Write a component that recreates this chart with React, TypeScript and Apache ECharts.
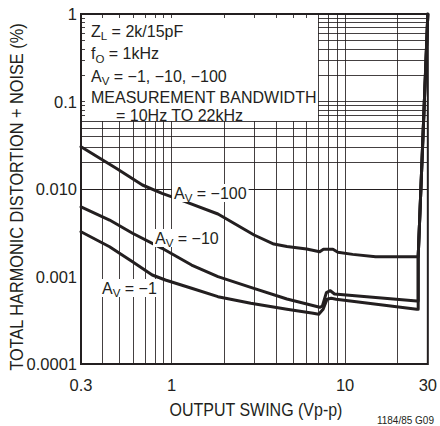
import React, { useEffect, useRef } from "react";
import * as echarts from "echarts";

// ---- tick labels ----
const X_TICKS = [0.3, 1, 10, 30];
const X_TICK_LABELS = ["0.3", "1", "10", "30"];
const Y_TICKS = [0.0001, 0.001, 0.01, 0.1, 1];
const Y_TICK_LABELS = ["0.0001", "0.001", "0.010", "0.1", "1"];

// ---- grid lines ----
const X_GRID = [0.4, 0.5, 0.6, 0.7, 0.8, 0.9, 1, 2, 3, 4, 5, 6, 7, 8, 9, 10, 20];
const Y_GRID_MULT = [1, 2, 3, 4, 5, 6, 7, 8, 9];
const Y_GRID_DECADES = [0.0001, 0.001, 0.01, 0.1];

// ---- series values (output swing Vp-p, THD+N %) ----
const AV100_X = [0.3, 0.4785, 0.678, 0.88, 1.196, 1.849, 2.988, 3.882, 4.62, 6.0, 7.14, 7.5, 8.51, 9.09, 11.06, 15.0, 25.9];
const AV100_Y = [0.0304, 0.01724, 0.01111, 0.00893, 0.00716, 0.00518, 0.00298, 0.00235, 0.0022, 0.00206, 0.00192, 0.00205, 0.00205, 0.00189, 0.00179, 0.00168, 0.00168];

const AV10_X = [0.3, 0.4384, 0.5946, 0.88, 1.303, 1.849, 2.858, 4.62, 7.14, 7.4, 7.8, 8.22, 8.69, 25.9, 26.4];
const AV10_Y = [0.00623, 0.00442, 0.00312, 0.0021, 0.001353, 0.000995, 0.000752, 0.000553, 0.000445, 0.00046, 0.000653, 0.000688, 0.000631, 0.000525, 0.000525];

const AV1_X = [0.3, 0.4384, 0.5946, 0.7725, 0.92, 1.303, 1.849, 2.858, 4.62, 6.55, 7.05, 7.47, 7.87, 8.32, 8.88, 25.9, 26.4];
const AV1_Y = [0.00325, 0.00219, 0.001476, 0.00104, 0.000912, 0.000733, 0.000588, 0.000494, 0.000422, 0.00038, 0.00037, 0.000422, 0.000549, 0.000563, 0.000549, 0.000422, 0.000422];

// common steep rise near the clipping limit
const RISE_X = [26.4, 30];
const RISE_Y = [0.00168, 1];

const FONT = '"Liberation Sans", Arial, Helvetica, sans-serif';
const INK = "#231f20";

function zip(xs: number[], ys: number[]) {
  return xs.map((x, i) => [x, ys[i]]);
}

function nearestLabel(v: number, ticks: number[], labels: string[]) {
  let best = 0;
  let bestD = Infinity;
  ticks.forEach((t, i) => {
    const d = Math.abs(Math.log10(v) - Math.log10(t));
    if (d < bestD) {
      bestD = d;
      best = i;
    }
  });
  return bestD < 0.05 ? labels[best] : "";
}

function subText(main: string, sub: string, rest: string) {
  return `{m|${main}}{s|${sub}}{m|${rest}}`;
}

const RICH = {
  m: { fontSize: 16, fontFamily: FONT, color: INK, lineHeight: 22, verticalAlign: "middle" },
  s: { fontSize: 11.5, fontFamily: FONT, color: INK, lineHeight: 22, verticalAlign: "bottom" },
  n: { fontSize: 16, fontFamily: FONT, color: INK, lineHeight: 18, verticalAlign: "middle" },
};

export default function App() {
  const ref = useRef<HTMLDivElement>(null);

  useEffect(() => {
    if (!ref.current) return;
    const chart = echarts.init(ref.current, null, { renderer: "svg" });

    const yGrid: number[] = [];
    Y_GRID_DECADES.forEach((d, di) => {
      Y_GRID_MULT.forEach((m) => {
        if (di === 0 && m === 1) return;
        yGrid.push(d * m);
      });
    });

    const curveStyle = { color: INK, width: 3, cap: "round", join: "round" };
    const makeCurve = (name: string, xs: number[], ys: number[]) => ({
      name,
      type: "line",
      data: [...zip(xs, ys), ...zip(RISE_X, RISE_Y)],
      symbol: "none",
      showSymbol: false,
      lineStyle: curveStyle,
      z: 3,
      silent: true,
    });

    const textEl = (x: number, y: number, text: string, extra: any = {}) => ({
      type: "text",
      x,
      y,
      z: 12,
      style: {
        text,
        rich: RICH,
        fill: INK,
        font: `16px ${FONT}`,
        align: "left",
        verticalAlign: "middle",
        ...extra,
      },
    });

    const labelBg = { backgroundColor: "#fff", padding: [-2, 2, -2, 2] };

    chart.setOption({
      animation: false,
      backgroundColor: "#fff",
      grid: {
        left: 81,
        right: 7,
        top: 14,
        bottom: 62,
        show: true,
        borderColor: INK,
        borderWidth: 2,
        backgroundColor: "transparent",
      },
      xAxis: {
        type: "log",
        logBase: 10,
        min: 0.3,
        max: 30,
        axisLine: { show: false },
        axisTick: { show: false },
        splitLine: { show: false },
        axisLabel: {
          color: INK,
          fontSize: 16.5,
          fontFamily: FONT,
          margin: 12,
          formatter: (v: number) => nearestLabel(v, X_TICKS, X_TICK_LABELS),
        },
      },
      yAxis: {
        type: "log",
        logBase: 10,
        min: 0.0001,
        max: 1,
        axisLine: { show: false },
        axisTick: { show: false },
        splitLine: { show: false },
        axisLabel: {
          color: INK,
          fontSize: 16.5,
          fontFamily: FONT,
          margin: 4,
          formatter: (v: number) => nearestLabel(v, Y_TICKS, Y_TICK_LABELS),
        },
      },
      series: [
        {
          name: "grid",
          type: "line",
          data: [[1, 0.01]],
          symbol: "none",
          lineStyle: { width: 0, opacity: 0 },
          silent: true,
          z: 1,
          markLine: {
            silent: true,
            symbol: ["none", "none"],
            label: { show: false },
            lineStyle: { color: INK, width: 1, type: "solid", opacity: 0.85 },
            data: [
              ...X_GRID.map((v) => ({ xAxis: v })),
              ...yGrid.map((v) => ({ yAxis: v })),
            ],
          },
        },
        makeCurve("AV = -100", AV100_X, AV100_Y),
        makeCurve("AV = -10", AV10_X, AV10_Y),
        makeCurve("AV = -1", AV1_X, AV1_Y),
      ],
      graphic: [
        {
          type: "rect",
          z: 10,
          shape: { x: 85, y: 18, width: 233, height: 103 },
          style: { fill: "#fff" },
        },
        textEl(91, 31, subText("Z", "L", " = 2k/15pF")),
        textEl(91, 53.5, subText("f", "O", " = 1kHz")),
        textEl(91, 76, subText("A", "V", " = −1, −10, −100")),
        textEl(91, 97, "{n|MEASUREMENT BANDWIDTH}"),
        textEl(116, 115, "{n|= 10Hz TO 22kHz}"),
        textEl(172, 193, subText("A", "V", " = −100"), labelBg),
        textEl(153, 238, subText("A", "V", " = −10"), labelBg),
        textEl(100, 288, subText("A", "V", " = −1"), labelBg),
        {
          type: "text",
          x: 17,
          y: 197,
          rotation: Math.PI / 2,
          z: 12,
          scaleY: 1.1,
          style: {
            text: "TOTAL HARMONIC DISTORTION + NOISE (%)",
            font: `16.3px ${FONT}`,
            fill: INK,
            align: "center",
            verticalAlign: "middle",
          },
        },
        {
          type: "text",
          x: 256,
          y: 410,
          z: 12,
          scaleY: 1.1,
          style: {
            text: "OUTPUT SWING (Vp-p)",
            font: `16px ${FONT}`,
            fill: INK,
            align: "center",
            verticalAlign: "middle",
          },
        },
        {
          type: "text",
          x: 434,
          y: 425,
          z: 12,
          style: {
            text: "1184/85 G09",
            font: `10px ${FONT}`,
            fill: INK,
            align: "right",
            verticalAlign: "bottom",
          },
        },
      ],
    });

    return () => chart.dispose();
  }, []);

  return (
    <div
      ref={ref}
      style={{ position: "fixed", left: 0, top: 0, width: 440, height: 426, background: "#fff" }}
    />
  );
}
